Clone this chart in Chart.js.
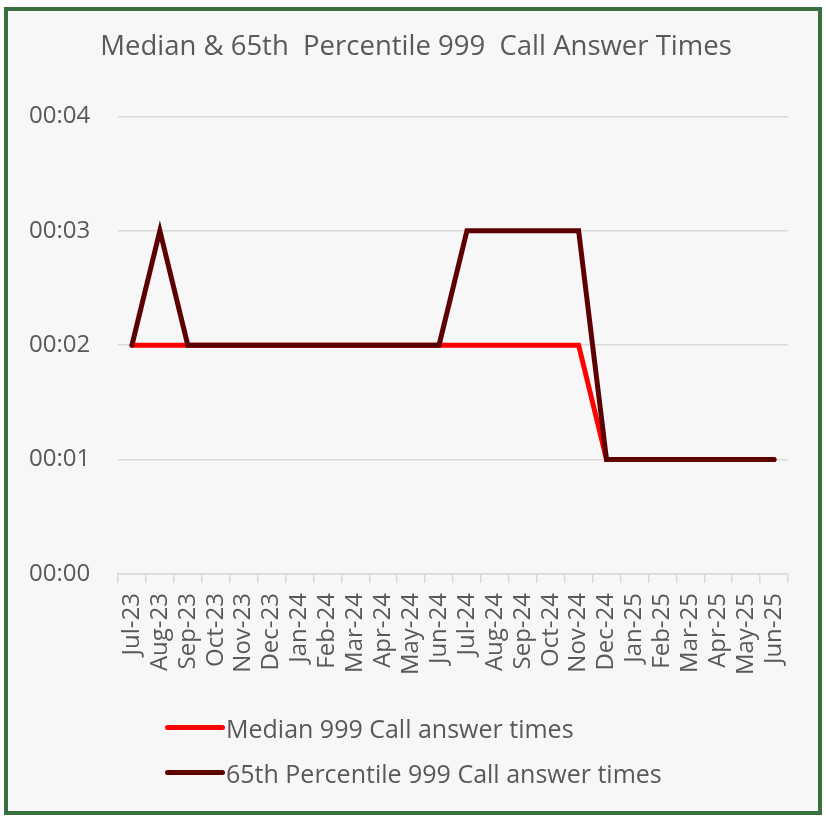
<!DOCTYPE html>
<html>
<head>
<meta charset="utf-8">
<script src="https://cdn.jsdelivr.net/npm/chart.js@4"></script>
<style>
  body { margin: 0; background: #fff; }
  #frame {
    position: absolute; left: 4px; top: 7px; width: 818px; height: 808px;
    box-sizing: border-box; border: 4px solid #38703f; background: #f7f7f7;
  }
  #wrap { position: absolute; left: 0; top: 0; width: 810px; height: 800px; }
  #legend { position: absolute; left: 157px; top: 694px; font-family: "Open Sans", sans-serif; font-size: 25px; color: #595959; }
  .item { display: flex; align-items: center; height: 45px; }
  .swatch { width: 60px; height: 5px; border-radius: 3px; margin-right: 1px; }
</style>
</head>
<body>
<div id="frame">
  <div id="wrap"><canvas id="chart"></canvas></div>
  <div id="legend"></div>
</div>
<script>
// === DATA ===
const months = ["Jul-23", "Aug-23", "Sep-23", "Oct-23", "Nov-23", "Dec-23", "Jan-24", "Feb-24",
  "Mar-24", "Apr-24", "May-24", "Jun-24", "Jul-24", "Aug-24", "Sep-24", "Oct-24", "Nov-24",
  "Dec-24", "Jan-25", "Feb-25", "Mar-25", "Apr-25", "May-25", "Jun-25"];

// answer times in seconds
const medianSecs = [2, 2, 2, 2, 2, 2, 2, 2, 2, 2, 2, 2, 2, 2, 2, 2, 2, 1, 1, 1, 1, 1, 1, 1];
const p65Secs    = [2, 3, 2, 2, 2, 2, 2, 2, 2, 2, 2, 2, 3, 3, 3, 3, 3, 1, 1, 1, 1, 1, 1, 1];

const seriesNames = ["Median 999 Call answer times", "65th Percentile 999 Call answer times"];
const seriesColors = ["#ff0000", "#5c0000"];

const fmt = v => "00:" + String(v).padStart(2, "0");
const txt = "#595959";
const font = "'Open Sans', sans-serif";

new Chart(document.getElementById("chart"), {
  type: "line",
  data: {
    labels: months,
    datasets: [
      {
        label: seriesNames[0],
        data: medianSecs,
        borderColor: seriesColors[0],
        borderWidth: 5,
        pointRadius: 0,
        borderCapStyle: "round",
        order: 1
      },
      {
        label: seriesNames[1],
        data: p65Secs,
        borderColor: seriesColors[1],
        borderWidth: 5,
        pointRadius: 0,
        borderCapStyle: "round",
        order: 0
      }
    ]
  },
  options: {
    responsive: true,
    maintainAspectRatio: false,
    animation: false,
    // left padding is wider than needed so the title sits centred like the original
    layout: { padding: { left: 36, right: 30, top: 0, bottom: 107 } },
    plugins: {
      legend: { display: false },
      tooltip: { enabled: false },
      title: {
        display: true,
        text: "Median & 65th  Percentile 999  Call Answer Times",
        color: txt,
        font: { family: font, size: 27.5, weight: "normal" },
        padding: { top: 20, bottom: 52.3 }
      }
    },
    scales: {
      x: {
        offset: true,
        grid: { offset: true, drawOnChartArea: false, color: "#d9d9d9", lineWidth: 1.5, tickLength: 9 },
        border: { color: "#d9d9d9", width: 1.5 },
        ticks: {
          color: txt, font: { family: font, size: 24 },
          minRotation: 90, maxRotation: 90, autoSkip: false, padding: 10
        },
        afterFit: s => { s.height = 130; }
      },
      y: {
        min: 0,
        max: 4,
        grid: { color: "#d9d9d9", lineWidth: 1.5, drawTicks: false },
        border: { display: false },
        ticks: {
          // mirror avoids clipping labels to the axis box; negative padding pulls them back left
          mirror: true,
          stepSize: 1, color: txt, font: { family: font, size: 24 }, padding: -89,
          callback: v => fmt(v)
        },
        afterFit: s => { s.width = 74; }
      }
    }
  }
});

// legend as plain HTML rows, both starting at the same x
const legend = document.getElementById("legend");
seriesNames.forEach((name, i) => {
  const row = document.createElement("div");
  row.className = "item";
  const sw = document.createElement("span");
  sw.className = "swatch";
  sw.style.background = seriesColors[i];
  const label = document.createElement("span");
  label.textContent = name;
  row.appendChild(sw);
  row.appendChild(label);
  legend.appendChild(row);
});
</script>
</body>
</html>
